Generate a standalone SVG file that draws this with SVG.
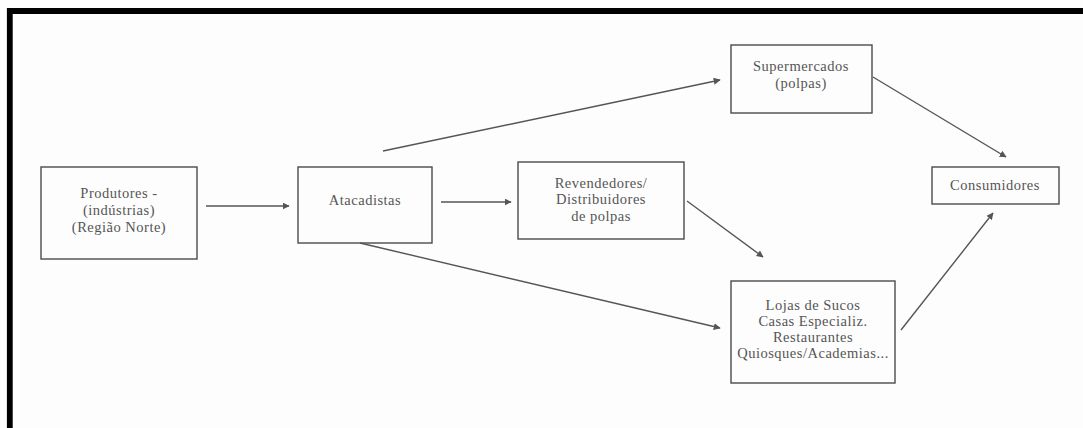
<svg xmlns="http://www.w3.org/2000/svg" width="1083" height="428" viewBox="0 0 1083 428">
  <style>
    .box { fill: none; stroke: #4a4a4a; stroke-width: 1.4; }
    .lbl { font-family: "Liberation Serif", "Times New Roman", serif; font-size: 14.5px; letter-spacing: 0.5px; fill: #555; text-anchor: middle; }
    .edge { stroke: #555; stroke-width: 1.4; fill: none; marker-end: url(#head); }
  </style>
  <defs>
    <marker id="head" viewBox="0 0 10 10" refX="9" refY="5" markerWidth="7" markerHeight="7" markerUnits="userSpaceOnUse" orient="auto">
      <path d="M0,0 L10,5 L0,10 z" fill="#555"/>
    </marker>
  </defs>

  <rect width="1083" height="428" fill="#fdfdfd"/>
  <!-- outer frame: top and left edges -->
  <path d="M9.8,428 V11 H1083" fill="none" stroke="#000" stroke-width="5.8"/>

  <g id="produtores">
    <rect class="box" x="41" y="167" width="156" height="92"/>
    <text class="lbl" x="119" y="198">Produtores -</text>
    <text class="lbl" x="119" y="215">(indústrias)</text>
    <text class="lbl" x="119" y="232">(Região Norte)</text>
  </g>

  <g id="atacadistas">
    <rect class="box" x="298" y="167" width="134" height="76"/>
    <text class="lbl" x="365" y="205">Atacadistas</text>
  </g>

  <g id="revendedores">
    <rect class="box" x="518" y="162" width="166" height="77"/>
    <text class="lbl" x="601" y="188">Revendedores/</text>
    <text class="lbl" x="601" y="204">Distribuidores</text>
    <text class="lbl" x="601" y="221">de polpas</text>
  </g>

  <g id="supermercados">
    <rect class="box" x="731" y="45" width="141" height="68"/>
    <text class="lbl" x="801" y="71">Supermercados</text>
    <text class="lbl" x="801" y="88">(polpas)</text>
  </g>

  <g id="consumidores">
    <rect class="box" x="932" y="167" width="127" height="37"/>
    <text class="lbl" x="995" y="190">Consumidores</text>
  </g>

  <g id="lojas">
    <rect class="box" x="731" y="281" width="164" height="102"/>
    <text class="lbl" x="813" y="310">Lojas de Sucos</text>
    <text class="lbl" x="813" y="326">Casas Especializ.</text>
    <text class="lbl" x="813" y="342">Restaurantes</text>
    <text class="lbl" x="813" y="358">Quiosques/Academias...</text>
  </g>

  <g id="connectors">
    <line class="edge" x1="206" y1="206" x2="289" y2="206"/>
    <line class="edge" x1="441" y1="202" x2="511" y2="202"/>
    <line class="edge" x1="383" y1="151" x2="720" y2="80"/>
    <line class="edge" x1="360" y1="243" x2="720" y2="328"/>
    <line class="edge" x1="687" y1="201" x2="763" y2="257"/>
    <line class="edge" x1="873" y1="77" x2="1006" y2="157"/>
    <line class="edge" x1="901" y1="330" x2="993" y2="213"/>
  </g>
</svg>
